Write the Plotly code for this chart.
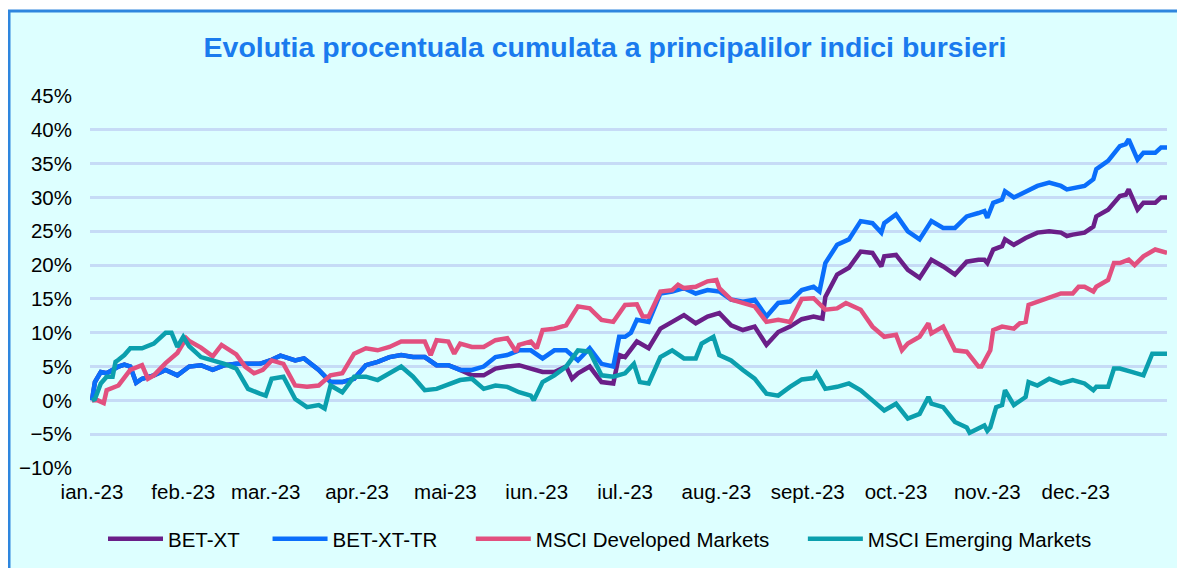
import pandas as pd
import plotly.graph_objects as go

# ---- data (day offsets from 1 Jan 2023, cumulative % change) ----
bet_xt_tr_day = [0, 1, 3, 5, 9, 11, 13, 15, 17, 21, 25, 29, 33, 37, 41, 45, 49, 53, 57, 61, 64, 69, 72, 77, 81, 85, 89, 93, 97, 101, 105, 109, 113, 117, 121, 125, 129, 133, 137, 141, 145, 149, 153, 157, 161, 165, 169, 173, 177, 179, 181, 183, 185, 189, 193, 197, 201, 205, 209, 213, 217, 221, 225, 229, 233, 237, 241, 245, 247, 249, 253, 257, 261, 265, 268, 269, 273, 277, 281, 285, 289, 293, 297, 301, 303, 304, 306, 309, 310, 313, 317, 321, 325, 329, 331, 333, 337, 340, 341, 345, 349, 351, 352, 355, 357, 361, 363, 365]
bet_xt_tr_val = [0, 2.7, 4.2, 4.0, 5.0, 5.3, 5.0, 2.6, 3.2, 3.7, 4.5, 3.7, 5.0, 5.2, 4.5, 5.2, 5.4, 5.4, 5.4, 6.0, 6.6, 5.9, 6.2, 4.5, 2.7, 2.7, 3.2, 5.2, 5.7, 6.4, 6.7, 6.4, 6.4, 5.2, 5.2, 4.5, 4.5, 5.0, 6.4, 6.7, 7.4, 7.4, 6.2, 7.4, 7.4, 5.9, 7.7, 5.4, 5.0, 9.4, 9.4, 10.0, 11.9, 11.6, 15.8, 16.1, 16.6, 15.8, 16.3, 16.1, 14.9, 14.6, 14.9, 12.4, 14.4, 14.6, 16.3, 16.8, 16.1, 20.3, 23.0, 23.8, 26.5, 26.2, 24.8, 26.2, 27.5, 25.0, 23.8, 26.5, 25.5, 25.5, 27.2, 27.7, 28.0, 27.0, 29.2, 29.7, 30.9, 30.0, 30.9, 31.7, 32.2, 31.7, 31.2, 31.4, 31.7, 32.7, 34.2, 35.4, 37.6, 37.9, 38.6, 35.6, 36.6, 36.6, 37.4, 37.4]

bet_xt_day = [0, 1, 3, 5, 9, 11, 13, 15, 17, 21, 25, 29, 33, 37, 41, 45, 49, 53, 57, 61, 64, 69, 72, 77, 81, 85, 89, 93, 97, 101, 105, 109, 113, 117, 121, 125, 129, 133, 137, 141, 145, 149, 153, 157, 161, 163, 165, 169, 173, 177, 179, 181, 185, 189, 193, 197, 201, 205, 209, 213, 217, 221, 225, 229, 233, 237, 241, 245, 248, 249, 253, 257, 261, 265, 268, 269, 273, 277, 281, 285, 289, 293, 297, 301, 303, 304, 306, 309, 310, 313, 317, 321, 325, 329, 331, 333, 337, 340, 341, 345, 349, 351, 352, 355, 357, 361, 363, 365]
bet_xt_val = [0, 2.7, 4.2, 4.0, 5.0, 5.3, 5.0, 2.6, 3.2, 3.7, 4.5, 3.7, 5.0, 5.2, 4.5, 5.2, 5.4, 5.4, 5.4, 6.0, 6.6, 5.9, 6.2, 4.5, 2.7, 2.7, 3.2, 5.2, 5.7, 6.4, 6.7, 6.4, 6.4, 5.2, 5.2, 4.5, 3.7, 3.7, 4.7, 5.0, 5.2, 4.7, 4.2, 4.2, 5.0, 3.2, 4.0, 5.0, 2.7, 2.5, 6.7, 6.4, 8.7, 7.7, 10.6, 11.6, 12.6, 11.4, 12.4, 12.9, 11.1, 10.4, 10.9, 8.2, 10.1, 10.9, 12.0, 12.4, 12.1, 15.3, 18.6, 19.6, 22.0, 21.8, 19.8, 21.3, 21.5, 19.3, 18.1, 20.8, 19.8, 18.6, 20.5, 20.8, 20.8, 20.3, 22.3, 22.8, 23.8, 23.0, 24.0, 24.8, 25.0, 24.8, 24.3, 24.5, 24.8, 25.7, 27.2, 28.2, 30.2, 30.4, 31.2, 28.2, 29.2, 29.2, 30.0, 30.0]

msci_dev_day = [0, 2, 4, 5, 9, 13, 17, 19, 21, 25, 29, 32, 33, 37, 41, 44, 49, 52, 55, 58, 61, 65, 69, 73, 77, 81, 85, 89, 93, 97, 101, 105, 109, 113, 115, 117, 121, 123, 125, 129, 133, 137, 141, 144, 145, 149, 151, 153, 157, 161, 165, 169, 173, 177, 181, 185, 187, 189, 193, 197, 199, 201, 205, 209, 212, 213, 217, 221, 225, 229, 233, 237, 241, 245, 249, 253, 256, 261, 265, 269, 273, 275, 277, 281, 284, 285, 289, 293, 297, 301, 302, 305, 306, 309, 313, 315, 317, 318, 321, 325, 329, 333, 335, 337, 340, 341, 345, 347, 349, 352, 354, 357, 361, 365]
msci_dev_val = [0, 0, -0.4, 1.5, 2.2, 4.5, 5.2, 3.2, 3.7, 5.5, 7.0, 9.2, 8.8, 7.8, 6.5, 8.2, 6.8, 5.0, 4.0, 4.5, 5.9, 5.4, 2.2, 2.0, 2.2, 3.7, 4.0, 6.9, 7.7, 7.4, 7.9, 8.7, 8.7, 8.7, 6.7, 8.9, 8.7, 6.9, 8.4, 7.9, 7.9, 8.9, 9.2, 7.2, 8.2, 8.7, 7.7, 10.4, 10.6, 11.1, 13.9, 13.6, 11.9, 11.6, 14.1, 14.2, 12.4, 12.4, 16.1, 16.3, 17.1, 16.6, 16.8, 17.6, 17.8, 16.6, 14.9, 14.4, 13.9, 11.6, 11.9, 11.6, 15.0, 15.1, 13.4, 13.6, 14.4, 13.4, 10.9, 9.4, 9.7, 7.4, 8.4, 9.4, 11.4, 9.9, 10.9, 7.4, 7.2, 5.0, 5.0, 7.4, 10.4, 10.9, 10.6, 11.4, 11.6, 14.1, 14.6, 15.3, 15.8, 15.8, 16.8, 16.8, 16.1, 16.8, 17.8, 20.3, 20.3, 20.8, 20.0, 21.3, 22.3, 21.8]

msci_em_day = [0, 1, 3, 5, 7, 8, 9, 11, 13, 17, 21, 25, 27, 29, 31, 33, 37, 41, 45, 49, 53, 57, 59, 61, 65, 69, 73, 77, 79, 81, 85, 89, 93, 97, 101, 105, 109, 113, 117, 121, 125, 129, 133, 137, 141, 145, 149, 150, 153, 157, 161, 165, 169, 173, 177, 181, 184, 186, 189, 193, 197, 201, 205, 207, 211, 213, 217, 221, 225, 229, 233, 237, 241, 245, 246, 249, 253, 257, 261, 265, 269, 273, 277, 281, 284, 285, 289, 293, 297, 298, 301, 303, 304, 305, 307, 309, 310, 313, 317, 318, 321, 325, 329, 333, 337, 340, 341, 345, 347, 349, 353, 357, 360, 363, 365]
msci_em_val = [0, 0.2, 2.5, 3.5, 3.5, 5.7, 6.0, 6.7, 7.7, 7.7, 8.4, 10.0, 10.0, 7.9, 9.4, 8.0, 6.4, 5.9, 5.4, 4.7, 1.7, 1.0, 0.7, 3.2, 3.5, 0.2, -1.0, -0.7, -1.2, 2.2, 1.2, 3.5, 3.5, 3.0, 4.0, 5.0, 3.5, 1.5, 1.7, 2.3, 3.0, 3.2, 1.7, 2.2, 2.0, 1.2, 0.7, 0, 2.7, 3.7, 5.0, 7.4, 7.2, 3.7, 3.5, 4.0, 5.4, 2.7, 2.5, 6.4, 7.4, 6.2, 6.2, 8.4, 9.4, 6.7, 5.9, 4.5, 3.2, 1.0, 0.7, 2.0, 3.1, 3.3, 4.0, 1.7, 2.0, 2.5, 1.5, 0, -1.5, -0.5, -2.7, -2.0, 0.5, -0.5, -1.0, -3.2, -4.0, -4.8, -4.2, -3.7, -4.5, -4.0, -1.0, -0.7, 1.5, -0.7, 0.5, 2.7, 2.2, 3.2, 2.5, 3.0, 2.5, 1.5, 2.0, 2.0, 4.7, 4.7, 4.2, 3.7, 6.9, 6.9, 6.9]

series_names = ["BET-XT", "BET-XT-TR", "MSCI Developed Markets", "MSCI Emerging Markets"]
series_colors = ["#6A1F88", "#0A6EFB", "#E2507F", "#0B9FAD"]
legend_pad = [4, 5, 5, 0]  # trailing non-breaking spaces to widen gaps between legend entries

month_starts = ["2023-01-01", "2023-02-01", "2023-03-01", "2023-04-01", "2023-05-01", "2023-06-01",
                "2023-07-01", "2023-08-01", "2023-09-01", "2023-10-01", "2023-11-01", "2023-12-01"]
month_labels = ["ian.-23", "feb.-23", "mar.-23", "apr.-23", "mai-23", "iun.-23",
                "iul.-23", "aug.-23", "sept.-23", "oct.-23", "nov.-23", "dec.-23"]

title_text = "Evolutia procentuala cumulata a principalilor indici bursieri"

start = pd.Timestamp("2023-01-01")


def to_dates(days):
    return [start + pd.Timedelta(days=d) for d in days]


series = [
    (bet_xt_day, bet_xt_val),
    (bet_xt_tr_day, bet_xt_tr_val),
    (msci_dev_day, msci_dev_val),
    (msci_em_day, msci_em_val),
]

# the page body adds an 8px offset, so the figure is sized to fill the rest of the window
W, H = 1177, 560
L, R, T, B = 82, 18, 88, 100
FONT = "Liberation Sans, Arial, sans-serif"
pw, ph = W - L - R, H - T - B

fig = go.Figure()
for (d, v), name, col, pad in zip(series, series_names, series_colors, legend_pad):
    fig.add_trace(go.Scatter(x=to_dates(d), y=v, mode="lines", name=name + "\u00a0" * pad,
                             line=dict(color=col, width=4.5)))

fig.add_shape(type="rect", xref="paper", yref="paper",
              x0=(1 - L) / pw, x1=(W + 10 - L) / pw,
              y0=(H - B - (H + 10)) / ph, y1=(H - B - 3) / ph,
              line=dict(color="#2E86DE", width=3), fillcolor="#DDFFFF", layer="below")

fig.update_layout(
    width=W, height=H,
    margin=dict(l=L, r=R, t=T, b=B, autoexpand=False),
    paper_bgcolor="white", plot_bgcolor="rgba(0,0,0,0)",
    font=dict(family=FONT, size=20.5, color="#000000"),
    title=dict(text="<b>" + title_text + "</b>", x=597 / W, xanchor="center",
               y=1 - 39 / H, yanchor="middle", yref="container",
               font=dict(family=FONT, size=28.5, color="#1A7BEE")),
    showlegend=True,
    legend=dict(orientation="h", xref="container", x=592 / W, xanchor="center",
                yref="container", y=1 - 531 / H, yanchor="middle",
                font=dict(family=FONT, size=20.5, color="#000000"),
                bgcolor="rgba(0,0,0,0)", itemwidth=55),
    xaxis=dict(type="date",
               range=[start - pd.Timedelta(hours=16), start + pd.Timedelta(days=365)],
               tickvals=month_starts, ticktext=month_labels,
               showgrid=False, zeroline=False, showline=False, ticks="",
               ticklabelstandoff=9,
               tickfont=dict(family=FONT, size=20.5, color="#000000")),
    yaxis=dict(range=[-10, 45], dtick=5, ticksuffix="%",
               showgrid=True, gridcolor="#C6DBF6", gridwidth=2.5,
               zeroline=False, showline=False, ticks="",
               ticklabelstandoff=17,
               tickfont=dict(family=FONT, size=20.5, color="#000000")),
)

fig.write_html("out.html")
